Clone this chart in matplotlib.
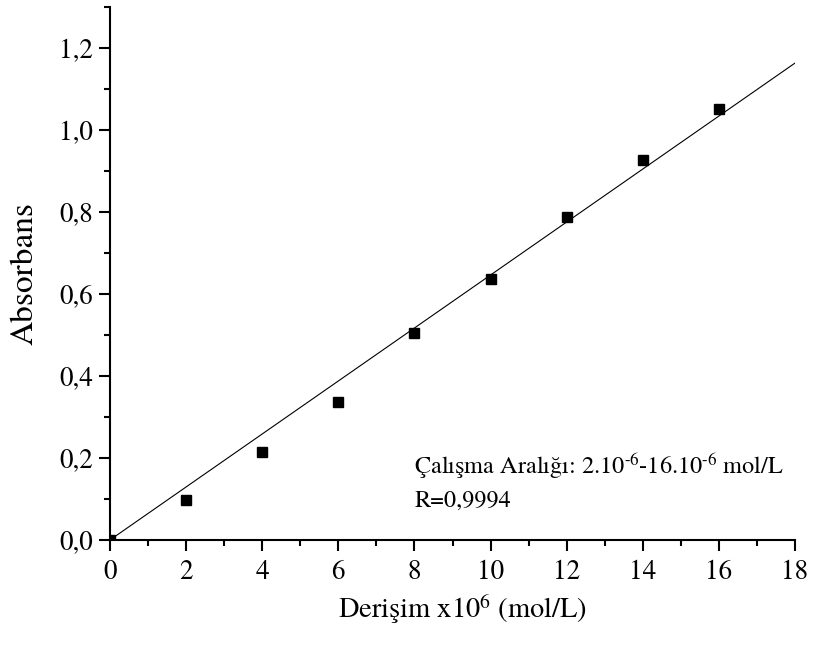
import numpy as np
import matplotlib
matplotlib.use("Agg")
import matplotlib.pyplot as plt
from matplotlib.ticker import MultipleLocator, FuncFormatter

# veriler
derisim = np.array([0, 2, 4, 6, 8, 10, 12, 14, 16])
absorbans = np.array([0.0, 0.097, 0.215, 0.337, 0.506, 0.636, 0.788, 0.927, 1.052])
x_ticks = [0, 2, 4, 6, 8, 10, 12, 14, 16, 18]
y_ticks = [0.0, 0.2, 0.4, 0.6, 0.8, 1.0, 1.2]

# Times benzeri yazı tipi
plt.rcParams["font.family"] = ["TeX Gyre Termes", "STIXGeneral", "DejaVu Serif"]
plt.rcParams["mathtext.fontset"] = "custom"
plt.rcParams["mathtext.rm"] = "TeX Gyre Termes"
plt.rcParams["mathtext.it"] = "TeX Gyre Termes:italic"

# orijinden geçen doğrusal uyum
egim = np.sum(derisim * absorbans) / np.sum(derisim ** 2)
x_fit = np.array([0, 18])

fig = plt.figure(figsize=(8.14, 6.49), dpi=100)
ax = fig.add_axes([0.1351, 0.168, 0.8416, 0.821])

ax.plot(x_fit, egim * x_fit, color="black", lw=0.8)
ax.plot(derisim, absorbans, "s", color="black", ms=7.5)

ax.set_xlim(0, 18)
ax.set_ylim(0, 1.3)
ax.set_xticks(x_ticks)
ax.set_yticks(y_ticks)
ax.xaxis.set_minor_locator(MultipleLocator(1))
ax.yaxis.set_minor_locator(MultipleLocator(0.1))
ax.yaxis.set_major_formatter(FuncFormatter(lambda v, p: f"{v:.1f}".replace(".", ",")))

for s in ["top", "right"]:
    ax.spines[s].set_visible(False)
for s in ["left", "bottom"]:
    ax.spines[s].set_linewidth(1.5)
ax.tick_params(which="major", direction="out", length=8, width=1.5, labelsize=19.5)
ax.tick_params(axis="x", which="major", pad=6)
ax.tick_params(axis="y", which="major", pad=4)
ax.tick_params(which="minor", direction="out", length=4, width=1.5)

ax.set_xlabel("Derişim x10$^{6}$ (mol/L)", fontsize=20.5)
ax.xaxis.set_label_coords(0.515, -0.10)
ax.set_ylabel("Absorbans", fontsize=24)
ax.yaxis.set_label_coords(-0.103, 0.5)

ax.text(8.0, 0.163, "Çalışma Aralığı: 2.10$^{\\text{-6}}$-16.10$^{\\text{-6}}$ mol/L",
        fontsize=17.5, va="baseline", ha="left")
ax.text(8.0, 0.080, "R=0,9994", fontsize=17.5, va="baseline", ha="left")

plt.savefig("out.png", dpi=100)
plt.close()
